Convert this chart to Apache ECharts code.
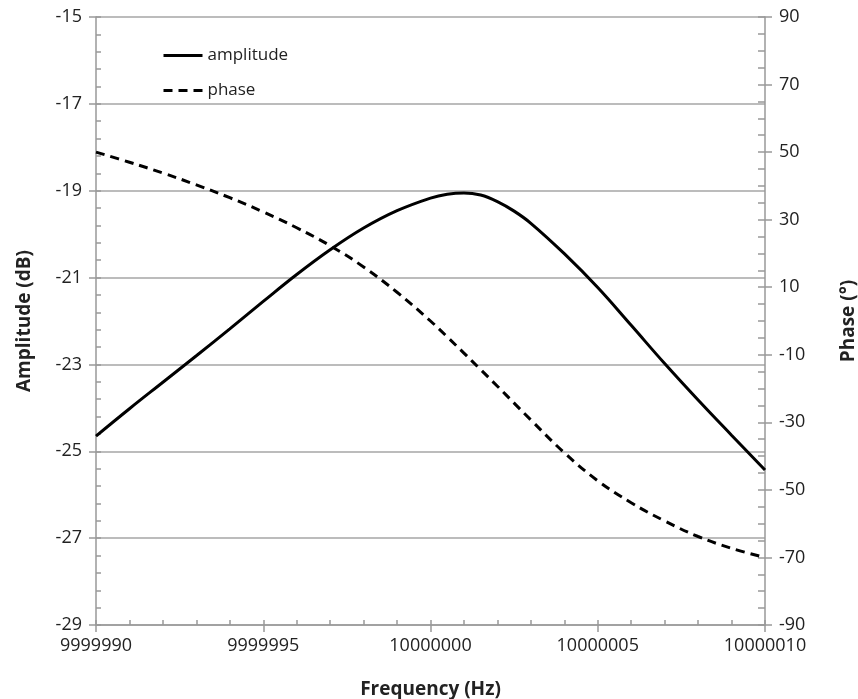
<!DOCTYPE html>
<html>
<head>
<meta charset="utf-8">
<script src="https://cdn.jsdelivr.net/npm/echarts@6/dist/echarts.min.js"></script>
<style>
html, body { margin: 0; padding: 0; background: #fff; }
#chart { width: 858px; height: 699px; }
</style>
</head>
<body>
<div id="chart"></div>
<script>
// frequency points (Hz), denser around the resonance peak
var freqs = [9999990, 9999991, 9999992, 9999993, 9999994, 9999995, 9999996, 9999997, 9999998, 9999999,
    10000000, 10000000.5, 10000001, 10000001.5, 10000002, 10000002.5, 10000003,
    10000004, 10000005, 10000006, 10000007, 10000008, 10000009, 10000010]
// amplitude in dB (left axis)
var amplitude = [-24.65, -24.02, -23.41, -22.8, -22.18, -21.55, -20.93, -20.36, -19.86, -19.46,
    -19.17, -19.08, -19.05, -19.1, -19.25, -19.47, -19.75,
    -20.45, -21.23, -22.1, -22.98, -23.82, -24.63, -25.43]
// phase in degrees (right axis)
var phase = [50, 47, 43.8, 40.3, 36.5, 32.3, 27.6, 22.3, 16, 8.5,
    0, -4.7, -9.5, -14.4, -19.3, -24.3, -29.3,
    -39, -47.3, -53.8, -59.2, -63.8, -67.3, -70]

var font = '"Open Sans", "Noto Sans", sans-serif'
var axisGray = '#999'
var textColor = '#222'

var chart = echarts.init(document.getElementById('chart'))

function pairs(ys) {
    return freqs.map(function (f, i) { return [f, ys[i]] })
}

// extra axis carrying only the short inside ticks
function minorAxis(pos, max, len) {
    return {
        type: 'value',
        position: pos,
        min: 0,
        max: max,
        interval: 1,
        axisLine: { show: false, onZero: false },
        axisTick: { show: true, inside: true, length: len, lineStyle: { color: axisGray, width: 1.5 } },
        axisLabel: { show: false },
        splitLine: { show: false }
    }
}

var nameStyle = { fontSize: 19, fontWeight: 'bold', color: textColor, fontFamily: font }

chart.setOption({
    animation: false,
    textStyle: { fontFamily: font },
    grid: { left: 96, right: 93, top: 17, bottom: 74, containLabel: false, outerBoundsMode: 'none' },
    legend: {
        orient: 'vertical',
        left: 157,
        top: 42,
        itemWidth: 39,
        itemHeight: 14,
        itemGap: 18,
        itemStyle: { opacity: 0 },
        lineStyle: { width: 3 },
        textStyle: { fontSize: 17, color: textColor, fontFamily: font },
        data: ['amplitude', 'phase']
    },
    xAxis: [
        {
            type: 'value',
            min: 9999990,
            max: 10000010,
            interval: 5,
            name: 'Frequency (Hz)',
            nameLocation: 'middle',
            nameGap: 55,
            nameMoveOverlap: false,
            nameTextStyle: nameStyle,
            axisLine: { show: true, onZero: false, lineStyle: { color: axisGray, width: 1.5 } },
            axisTick: { show: true, length: 7, lineStyle: { color: axisGray, width: 1.5 } },
            axisLabel: { fontSize: 18, color: textColor, margin: 12, formatter: function (v) { return String(v) } },
            splitLine: { show: false }
        },
        minorAxis('bottom', 20, 5)
    ],
    yAxis: [
        {
            type: 'value',
            position: 'left',
            min: -29,
            max: -15,
            interval: 2,
            name: 'Amplitude (dB)',
            nameLocation: 'middle',
            nameGap: 62,
            nameRotate: 90,
            nameMoveOverlap: false,
            nameTextStyle: nameStyle,
            axisLine: { show: true, onZero: false, lineStyle: { color: axisGray, width: 1.5 } },
            axisTick: { show: true, length: 7, lineStyle: { color: axisGray, width: 1.5 } },
            axisLabel: { fontSize: 18, color: textColor, margin: 14 },
            splitLine: { show: true, lineStyle: { color: '#a6a6a6', width: 1.5 } }
        },
        {
            type: 'value',
            position: 'right',
            min: -90,
            max: 90,
            interval: 20,
            name: 'Phase (°)',
            nameLocation: 'middle',
            nameGap: 74,
            nameRotate: 90,
            nameMoveOverlap: false,
            nameTextStyle: nameStyle,
            axisLine: { show: true, onZero: false, lineStyle: { color: axisGray, width: 1.5 } },
            axisTick: { show: true, length: 7, lineStyle: { color: axisGray, width: 1.5 } },
            axisLabel: { fontSize: 18, color: textColor, margin: 14 },
            splitLine: { show: false }
        },
        minorAxis('left', 35, 5),
        minorAxis('right', 36, 7)
    ],
    series: [
        {
            name: 'amplitude',
            type: 'line',
            xAxisIndex: 0,
            yAxisIndex: 0,
            data: pairs(amplitude),
            smooth: 0.4,
            symbol: 'none',
            lineStyle: { color: '#000', width: 3 },
            itemStyle: { color: '#000' }
        },
        {
            name: 'phase',
            type: 'line',
            xAxisIndex: 0,
            yAxisIndex: 1,
            data: pairs(phase),
            smooth: 0.4,
            symbol: 'none',
            lineStyle: { color: '#000', width: 3, type: [9, 6] },
            itemStyle: { color: '#000' }
        }
    ]
})
</script>
</body>
</html>
